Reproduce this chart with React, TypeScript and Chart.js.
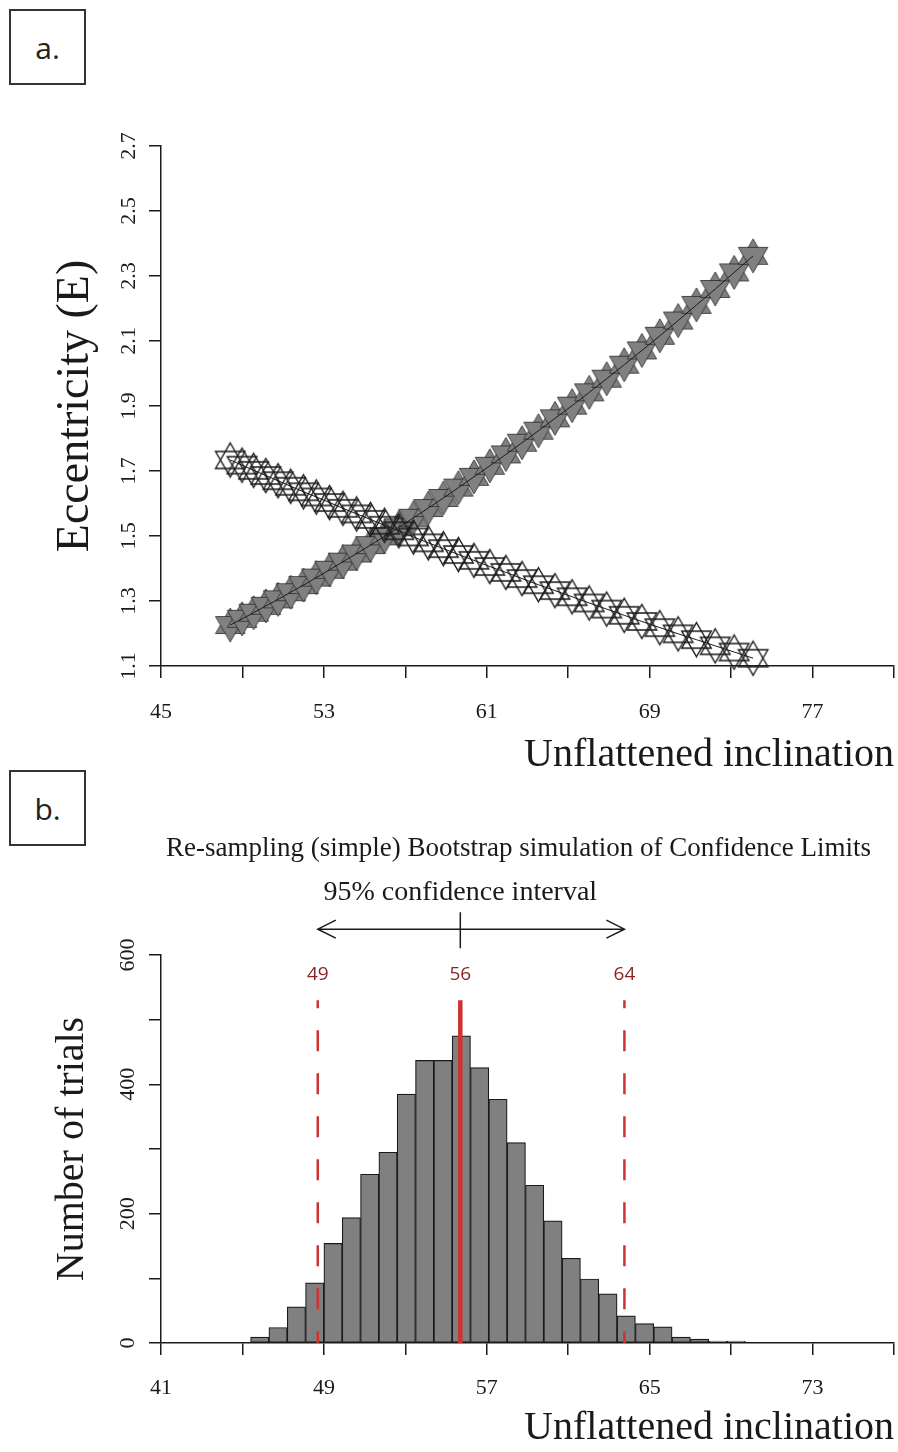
import React, { useEffect, useRef } from 'react';
import { Chart, registerables } from 'chart.js';

Chart.register(...registerables);

// ---------- Panel a: eccentricity against unflattened inclination ----------
const inclination = [
  48.4, 48.98, 49.55, 50.15, 50.75, 51.37, 52.0, 52.63, 53.28, 53.94, 54.61, 55.29,
  55.98, 56.68, 57.4, 58.13, 58.87, 59.61, 60.37, 61.15, 61.94, 62.73, 63.54, 64.35,
  65.19, 66.03, 66.89, 67.75, 68.62, 69.5, 70.4, 71.3, 72.22, 73.15, 74.08,
];
const eccentricityData = [
  1.226, 1.245, 1.264, 1.285, 1.305, 1.327, 1.349, 1.372, 1.396, 1.421, 1.446, 1.472,
  1.499, 1.527, 1.556, 1.586, 1.617, 1.649, 1.682, 1.716, 1.751, 1.787, 1.824, 1.862,
  1.901, 1.942, 1.984, 2.027, 2.071, 2.116, 2.163, 2.211, 2.26, 2.311, 2.362,
];
const eccentricityModel = [
  1.734, 1.718, 1.702, 1.686, 1.67, 1.653, 1.636, 1.62, 1.603, 1.585, 1.568, 1.551,
  1.533, 1.516, 1.497, 1.479, 1.461, 1.443, 1.425, 1.406, 1.388, 1.369, 1.35, 1.332,
  1.313, 1.294, 1.275, 1.256, 1.237, 1.218, 1.199, 1.181, 1.162, 1.143, 1.124,
];
const xTicksA = [45, 49, 53, 57, 61, 65, 69, 73, 77, 81];
const xLabelsA = [45, 53, 61, 69, 77];
const yTicksA = [1.1, 1.3, 1.5, 1.7, 1.9, 2.1, 2.3, 2.5, 2.7];

// ---------- Panel b: bootstrap histogram ----------
const binCentres = [
  45.85, 46.75, 47.65, 48.55, 49.45, 50.35, 51.25, 52.15, 53.05, 53.95, 54.85, 55.75,
  56.65, 57.55, 58.45, 59.35, 60.25, 61.15, 62.05, 62.95, 63.85, 64.75, 65.65, 66.55,
  67.45, 68.35, 69.25,
];
const trialCounts = [
  9, 24, 56, 93, 154, 194, 261, 295, 385, 437, 437, 475,
  426, 377, 310, 244, 189, 131, 99, 76, 42, 30, 25, 9,
  6, 3, 3,
];
const ciLower = 48.7;
const ciMedian = 55.7;
const ciUpper = 63.76;
const ciLineTop = 530;
const ciLabelLevel = 569;
const arrowLevel = 640;
const arrowTextLevel = 696;
const xTicksB = [41, 45, 49, 53, 57, 61, 65, 69, 73, 77];
const xLabelsB = [41, 49, 57, 65, 73];
const yTicksB = [0, 100, 200, 300, 400, 500, 600];
const yLabelsB = [0, 200, 400, 600];

const INK = '#1a1a1a';
const GREY = '#808080';
const RED = '#cd3333';
const DARK_RED = '#8b2323';
const SERIF = '"Liberation Serif", "Times New Roman", serif';

Chart.defaults.font.family = SERIF;
Chart.defaults.color = INK;

// Hexagram marker: an up and a down triangle drawn over each other
function makeStar(r: number, fill: string | null, stroke: string, lw: number) {
  const size = Math.ceil(2 * r + 2 * lw + 4);
  const c = document.createElement('canvas');
  c.width = size;
  c.height = size;
  const ctx = c.getContext('2d')!;
  const cx = size / 2;
  const cy = size / 2;
  const h = (r * Math.sqrt(3)) / 2;
  const tri = (dir: number) => {
    ctx.beginPath();
    ctx.moveTo(cx, cy - dir * r);
    ctx.lineTo(cx + h, cy + (dir * r) / 2);
    ctx.lineTo(cx - h, cy + (dir * r) / 2);
    ctx.closePath();
    if (fill) {
      ctx.fillStyle = fill;
      ctx.fill();
    }
    ctx.strokeStyle = stroke;
    ctx.lineWidth = lw;
    ctx.stroke();
  };
  tri(1);
  tri(-1);
  return c;
}

const axisGrid = {
  drawOnChartArea: false,
  drawTicks: true,
  tickLength: 12,
  color: INK,
  lineWidth: 1.5,
};
const axisBorder = { display: true, color: INK, width: 1.5 };

const ciPlugin = {
  id: 'ciAnnotations',
  afterDraw(chart: any) {
    const { ctx, chartArea } = chart;
    const x = chart.scales.x;
    const y = chart.scales.y;
    const xl = x.getPixelForValue(ciLower);
    const xm = x.getPixelForValue(ciMedian);
    const xu = x.getPixelForValue(ciUpper);
    ctx.save();
    ctx.fillStyle = INK;
    ctx.textAlign = 'center';
    ctx.textBaseline = 'middle';
    ctx.font = `27px ${SERIF}`;
    ctx.fillText(
      'Re-sampling (simple) Bootstrap simulation of Confidence Limits',
      (chartArea.left + chartArea.right) / 2 - 9,
      chartArea.top - 106
    );
    ctx.font = `28px ${SERIF}`;
    ctx.fillText('95% confidence interval', xm, y.getPixelForValue(arrowTextLevel));

    const ay = y.getPixelForValue(arrowLevel);
    ctx.strokeStyle = INK;
    ctx.lineWidth = 1.5;
    ctx.beginPath();
    ctx.moveTo(xl, ay);
    ctx.lineTo(xu, ay);
    ctx.moveTo(xl + 18, ay - 9);
    ctx.lineTo(xl, ay);
    ctx.lineTo(xl + 18, ay + 9);
    ctx.moveTo(xu - 18, ay - 9);
    ctx.lineTo(xu, ay);
    ctx.lineTo(xu - 18, ay + 9);
    ctx.moveTo(xm, ay - 17);
    ctx.lineTo(xm, ay + 19);
    ctx.stroke();

    ctx.fillStyle = DARK_RED;
    ctx.font = '19px "Open Sans", sans-serif';
    const ly = y.getPixelForValue(ciLabelLevel);
    [ciLower, ciMedian, ciUpper].forEach((v) => {
      ctx.fillText(String(Math.round(v)), x.getPixelForValue(v), ly);
    });
    ctx.restore();
  },
};

const boxStyle = (top: number): React.CSSProperties => ({
  position: 'absolute',
  left: 9,
  top,
  width: 73,
  height: 72,
  border: '2px solid #333',
  display: 'flex',
  alignItems: 'center',
  justifyContent: 'center',
  fontFamily: '"Open Sans", sans-serif',
  fontSize: 30,
  color: '#222',
  background: '#fff',
});

export default function App() {
  const refA = useRef<HTMLCanvasElement>(null);
  const refB = useRef<HTMLCanvasElement>(null);

  useEffect(() => {
    const greyStar = makeStar(17, GREY, '#2a2a2a', 0.8);
    const openStar = makeStar(17, null, INK, 1.4);
    const pointsGrey = inclination.map((v, i) => ({ x: v, y: eccentricityData[i] }));
    const pointsOpen = inclination.map((v, i) => ({ x: v, y: eccentricityModel[i] }));

    const chartA = new Chart(refA.current!, {
      type: 'scatter',
      data: {
        datasets: [
          {
            data: pointsGrey,
            showLine: true,
            borderColor: INK,
            borderWidth: 1,
            pointRadius: 0,
            clip: false,
            order: 0,
          },
          {
            data: pointsOpen,
            showLine: true,
            borderColor: INK,
            borderWidth: 1,
            pointRadius: 0,
            clip: false,
            order: 1,
          },
          {
            data: pointsOpen,
            showLine: false,
            pointStyle: openStar,
            pointRadius: 15,
            clip: false,
            order: 2,
          },
          {
            data: pointsGrey,
            showLine: false,
            pointStyle: greyStar,
            pointRadius: 15,
            clip: false,
            order: 3,
          },
        ],
      },
      options: {
        responsive: false,
        animation: false,
        devicePixelRatio: 1,
        layout: { autoPadding: false, padding: { left: 0, right: 4, top: 146, bottom: 0 } },
        plugins: { legend: { display: false }, tooltip: { enabled: false } },
        scales: {
          x: {
            type: 'linear',
            min: 45,
            max: 81,
            afterBuildTicks: (s: any) => {
              s.ticks = xTicksA.map((v) => ({ value: v }));
            },
            afterFit: (s: any) => {
              s.height = 114;
            },
            grid: axisGrid,
            border: axisBorder,
            ticks: {
              autoSkip: false,
              minRotation: 0,
              maxRotation: 0,
              padding: 4,
              color: INK,
              font: { size: 22, lineHeight: '60px' },
              callback: (v: any) => (xLabelsA.includes(v) ? String(v) : ''),
            },
            title: {
              display: true,
              text: 'Unflattened inclination',
              align: 'end',
              color: INK,
              font: { size: 40 },
              padding: { top: 0, bottom: 1 },
            },
          },
          y: {
            type: 'linear',
            min: 1.1,
            max: 2.7,
            afterBuildTicks: (s: any) => {
              s.ticks = yTicksA.map((v) => ({ value: v }));
            },
            afterFit: (s: any) => {
              s.width = 161;
            },
            grid: axisGrid,
            border: axisBorder,
            ticks: {
              autoSkip: false,
              minRotation: 90,
              maxRotation: 90,
              crossAlign: 'center',
              padding: 6,
              color: INK,
              font: { size: 22 },
              callback: (v: any) => Number(v).toFixed(1),
            },
            title: {
              display: true,
              text: 'Eccentricity (E)',
              color: INK,
              font: { size: 46 },
              padding: { top: 48, bottom: 0 },
            },
          },
        },
      },
    } as any);

    const bins = binCentres.map((v, i) => ({ x: v, y: trialCounts[i] }));
    const ciLine = (v: number, dashed: boolean) => ({
      type: 'line',
      data: [
        { x: v, y: ciLineTop },
        { x: v, y: 0 },
      ],
      borderColor: RED,
      borderWidth: dashed ? 2.5 : 4.5,
      borderDash: dashed ? [21, 22] : [],
      borderDashOffset: dashed ? 13 : 0,
      pointRadius: 0,
      fill: false,
      order: 0,
    });

    const chartB = new Chart(refB.current!, {
      type: 'bar',
      data: {
        datasets: [
          {
            type: 'bar',
            data: bins,
            backgroundColor: GREY,
            borderColor: INK,
            borderWidth: 1.2,
            borderSkipped: false,
            barPercentage: 1,
            categoryPercentage: 1,
            order: 1,
          },
          ciLine(ciLower, true),
          ciLine(ciMedian, false),
          ciLine(ciUpper, true),
        ],
      },
      options: {
        responsive: false,
        animation: false,
        devicePixelRatio: 1,
        layout: { autoPadding: false, padding: { left: 0, right: 4, top: 175, bottom: 0 } },
        plugins: { legend: { display: false }, tooltip: { enabled: false } },
        scales: {
          x: {
            type: 'linear',
            min: 41,
            max: 77,
            offset: false,
            afterBuildTicks: (s: any) => {
              s.ticks = xTicksB.map((v) => ({ value: v }));
            },
            afterFit: (s: any) => {
              s.height = 109;
            },
            grid: { ...axisGrid, offset: false },
            border: axisBorder,
            ticks: {
              autoSkip: false,
              minRotation: 0,
              maxRotation: 0,
              padding: 4,
              color: INK,
              font: { size: 22, lineHeight: '58px' },
              callback: (v: any) => (xLabelsB.includes(v) ? String(v) : ''),
            },
            title: {
              display: true,
              text: 'Unflattened inclination',
              align: 'end',
              color: INK,
              font: { size: 40 },
              padding: { top: 0, bottom: 0 },
            },
          },
          y: {
            type: 'linear',
            min: 0,
            max: 600,
            afterBuildTicks: (s: any) => {
              s.ticks = yTicksB.map((v) => ({ value: v }));
            },
            afterFit: (s: any) => {
              s.width = 161;
            },
            grid: axisGrid,
            border: axisBorder,
            ticks: {
              autoSkip: false,
              minRotation: 90,
              maxRotation: 90,
              crossAlign: 'center',
              padding: 4,
              color: INK,
              font: { size: 22 },
              callback: (v: any) => (yLabelsB.includes(v) ? String(v) : ''),
            },
            title: {
              display: true,
              text: 'Number of trials',
              color: INK,
              font: { size: 40 },
              padding: { top: 48, bottom: 0 },
            },
          },
        },
      },
      plugins: [ciPlugin],
    } as any);

    return () => {
      chartA.destroy();
      chartB.destroy();
    };
  }, []);

  return (
    <div
      style={{
        position: 'absolute',
        left: 0,
        top: 0,
        width: 898,
        height: 1452,
        background: '#fff',
        overflow: 'hidden',
      }}
    >
      <canvas ref={refA} width={898} height={780} style={{ position: 'absolute', left: 0, top: 0 }} />
      <canvas ref={refB} width={898} height={672} style={{ position: 'absolute', left: 0, top: 780 }} />
      <div style={boxStyle(9)}>a.</div>
      <div style={boxStyle(770)}>b.</div>
    </div>
  );
}
